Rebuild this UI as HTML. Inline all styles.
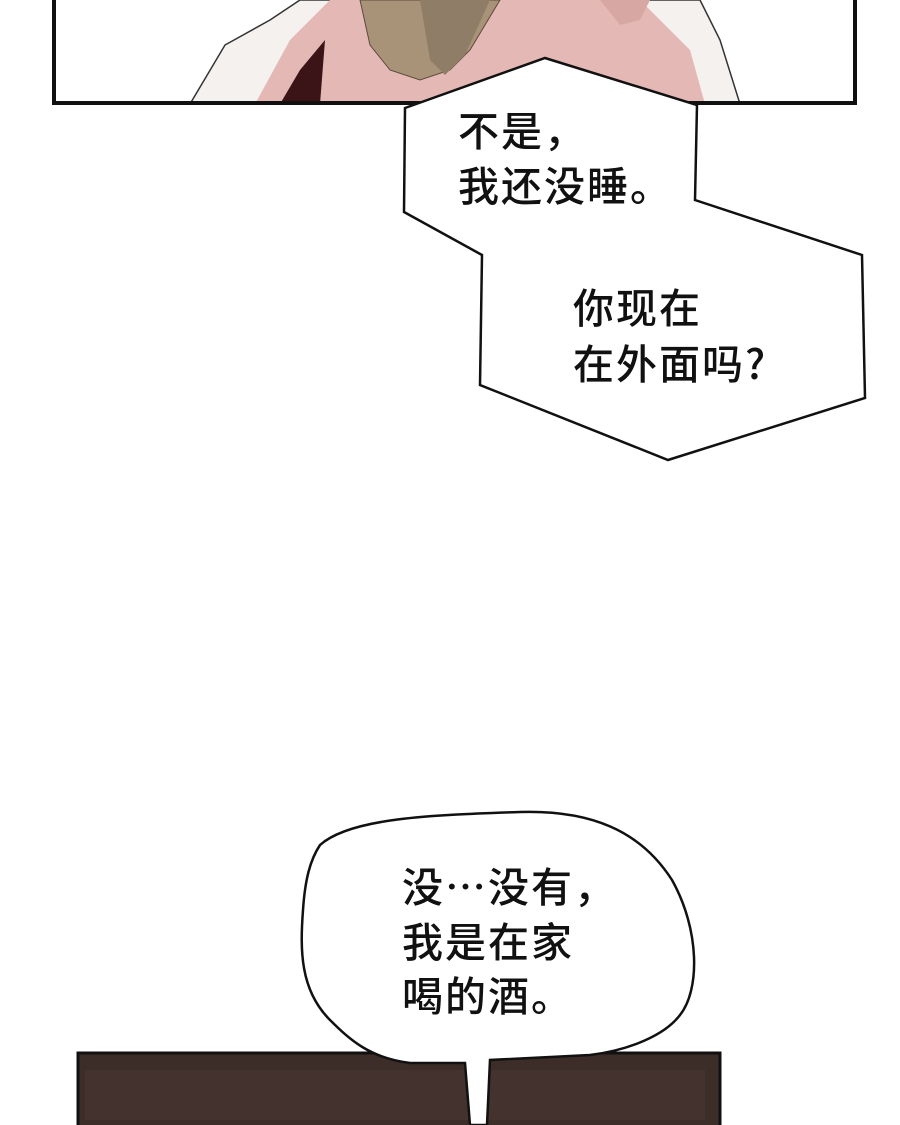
<!DOCTYPE html>
<html><head><meta charset="utf-8"><style>
html,body{margin:0;padding:0;background:#fff;}
svg{display:block;}
text{font-family:"Noto Sans CJK SC","Liberation Sans",sans-serif;font-size:41px;font-weight:500;letter-spacing:2px;fill:#111;}
</style></head><body>
<svg width="900" height="1125" viewBox="0 0 900 1125" xmlns="http://www.w3.org/2000/svg">
<rect width="900" height="1125" fill="#fff"/>
<g>
<path d="M190,104 L225,45 L270,20 L300,0 L700,0 L720,40 L740,104 Z" fill="#f4f1ee" stroke="#333" stroke-width="1.5"/>
<path d="M255,104 L290,40 L330,0 L640,0 L690,50 L705,104 Z" fill="#e4b9b5"/>
<path d="M280,104 L300,70 L325,40 L320,104 Z" fill="#3a1417"/>
<path d="M360,0 L370,45 L390,70 L420,80 L450,70 L470,50 L500,0 Z" fill="#a89378" stroke="#5a4a3a" stroke-width="1"/>
<path d="M420,0 L430,60 L445,75 L465,55 L490,0 Z" fill="#8f7d67"/>
<path d="M600,0 L620,25 L640,20 L650,0 Z" fill="#d7a8a3"/>
<rect x="54" y="-4" width="801" height="107" fill="none" stroke="#111" stroke-width="4"/>
</g>
<polygon points="405,108 545,58 697,105 695,200 862,255 865,398 668,460 480,385 482,255 404,212" fill="#fff" stroke="#111" stroke-width="2.5"/>
<text x="458" y="146">不是，</text>
<text x="458" y="201">我还没睡。</text>
<text x="573" y="323">你现在</text>
<text x="573" y="379">在外面吗?</text>
<rect x="78" y="1053" width="642" height="80" fill="#3d2d28" stroke="#111" stroke-width="3"/>
<rect x="85" y="1070" width="620" height="50" fill="#4a3833" opacity="0.5"/>
<path d="M320,845 C350,818 430,815 520,812 C590,810 640,830 672,880 C700,930 700,990 680,1015 C665,1035 630,1050 590,1055 L490,1060 L487,1125 L470,1125 L465,1063 L410,1063 C370,1058 350,1040 330,1020 C300,990 300,950 303,910 C305,880 310,860 320,845 Z" fill="#fff" stroke="#111" stroke-width="2.5"/>
<text x="402" y="902">没…没有，</text>
<text x="402" y="957">我是在家</text>
<text x="402" y="1011">喝的酒。</text>
</svg>
</body></html>
